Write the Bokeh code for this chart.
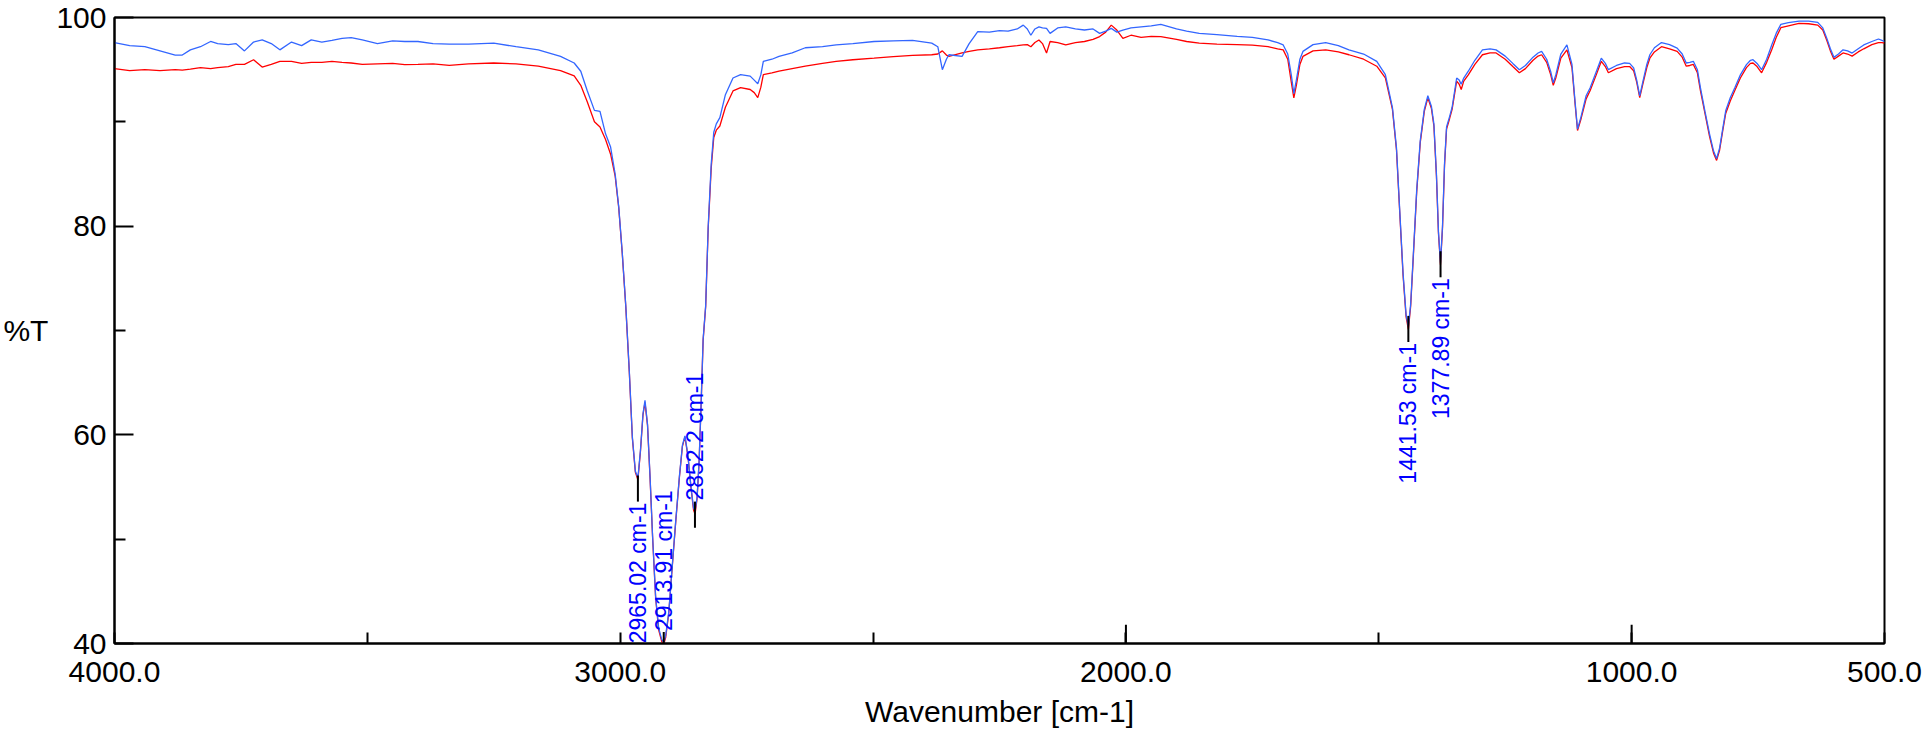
import math
from bokeh.plotting import figure
from bokeh.models import (Range1d, FixedTicker, Arrow, ColumnDataSource,
                          NumeralTickFormatter)
from bokeh.core.properties import value
from bokeh.embed import file_html
from bokeh.resources import INLINE

# ---------------- data ----------------
WAVENUMBER = [
    4000, 3970, 3940, 3910, 3880, 3866, 3850, 3830, 3810, 3796,
    3775, 3760, 3743, 3725, 3708, 3690, 3673, 3650, 3630, 3611,
    3590, 3570, 3550, 3532, 3510, 3480, 3450, 3426, 3400, 3370,
    3338, 3300, 3250, 3206, 3162, 3118, 3091, 3078, 3065, 3051,
    3040, 3029, 3019, 3010, 3003, 2996, 2989, 2982, 2976, 2970,
    2965, 2960, 2955, 2951, 2946, 2941, 2936, 2930, 2924, 2918,
    2914, 2910, 2904, 2897, 2890, 2883, 2877, 2872, 2866, 2860,
    2855, 2852, 2848, 2844, 2840, 2836, 2831, 2826, 2820, 2815,
    2810, 2803, 2792, 2777, 2762, 2743, 2735, 2728, 2722, 2717,
    2700, 2686, 2660, 2634, 2600, 2573, 2540, 2498, 2460, 2422,
    2384, 2372, 2363, 2355, 2350, 2324, 2310, 2293, 2270, 2250,
    2233, 2215, 2203, 2195, 2188, 2180, 2172, 2165, 2157, 2150,
    2135, 2119, 2100, 2082, 2065, 2052, 2040, 2029, 2018, 2006,
    1990, 1970, 1950, 1931, 1900, 1880, 1855, 1820, 1780, 1750,
    1719, 1700, 1689, 1680, 1673, 1668, 1663, 1656, 1650, 1630,
    1605, 1580, 1559, 1530, 1504, 1487, 1473, 1465, 1459, 1452,
    1446, 1441.5, 1437, 1432, 1425, 1418, 1410, 1403, 1396, 1391,
    1386, 1382, 1378, 1374, 1370, 1366, 1360, 1355, 1346, 1341,
    1337, 1332, 1323, 1310, 1295, 1280, 1268, 1250, 1235, 1222,
    1210, 1195, 1185, 1178, 1168, 1160, 1155, 1150, 1140, 1128,
    1118, 1112, 1107, 1100, 1090, 1082, 1070, 1060, 1052, 1046,
    1030, 1014, 1004, 996, 990, 984, 978, 970, 964, 955,
    941, 925, 910, 900, 892, 885, 878, 870, 864, 855,
    846, 838, 832, 826, 820, 814, 805, 796, 785, 773,
    765, 760, 752, 743, 733, 723, 714, 705, 690, 669,
    650, 632, 622, 614, 607, 600, 591, 582, 573, 564,
    552, 541, 525, 512, 505, 500,
]

T_BLUE = [
    97.6, 97.3, 97.2, 96.8, 96.4, 96.4, 96.9, 97.2, 97.7, 97.5,
    97.4, 97.5, 96.8, 97.65, 97.85, 97.5, 96.9, 97.65, 97.3, 97.85,
    97.65, 97.8, 98.0, 98.07, 97.85, 97.5, 97.75, 97.7, 97.7, 97.5,
    97.44, 97.44, 97.54, 97.2, 96.9, 96.27, 95.64, 94.85, 92.96, 91.1,
    91.0, 88.85, 87.58, 85.0, 81.9, 77.5, 72.4, 66.1, 59.8, 56.5,
    55.9, 58.5, 62.0, 63.3, 61.0, 56.0, 50.3, 44.5, 41.5, 40.4,
    40.1, 40.8, 43.0, 47.5, 51.9, 56.0, 59.0, 59.9, 58.0, 55.0,
    53.0, 52.7, 54.0, 57.5, 63.0, 69.2, 72.4, 80.0, 86.0, 89.0,
    89.8, 90.4, 92.6, 94.2, 94.53, 94.38, 94.0, 93.65, 94.5, 95.8,
    96.0, 96.27, 96.6, 97.1, 97.2, 97.37, 97.5, 97.7, 97.75, 97.8,
    97.54, 97.2, 95.0, 96.0, 96.43, 96.27, 97.5, 98.64, 98.6, 98.75,
    98.7, 98.9, 99.27, 98.9, 98.3, 98.9, 99.1, 99.0, 98.96, 98.48,
    99.0, 99.1, 98.9, 98.8, 98.9, 98.48, 98.7, 98.96, 98.6, 98.8,
    99.0, 99.1, 99.2, 99.34, 98.9, 98.7, 98.48, 98.35, 98.2, 98.1,
    97.85, 97.6, 97.37, 96.5, 94.5, 92.7, 94.0, 96.0, 96.75, 97.4,
    97.6, 97.3, 96.9, 96.5, 95.8, 94.53, 91.37, 87.5, 81.9, 75.5,
    71.5, 70.4, 72.5, 77.0, 83.5, 88.2, 91.2, 92.5, 91.5, 89.8,
    85.0, 79.5, 76.5, 80.0, 86.0, 89.5, 90.5, 91.4, 94.2, 94.0,
    93.6, 94.2, 94.85, 95.9, 96.9, 97.0, 96.9, 96.3, 95.6, 95.0,
    95.4, 96.2, 96.6, 96.75, 96.0, 94.8, 93.74, 94.5, 96.5, 97.37,
    95.5, 92.0, 89.3, 90.5, 92.5, 93.27, 94.8, 96.1, 95.6, 95.0,
    95.4, 95.64, 95.6, 95.17, 94.0, 92.48, 93.8, 95.5, 96.43, 97.1,
    97.6, 97.4, 97.06, 96.5, 95.64, 95.7, 95.8, 95.0, 93.27, 91.0,
    88.85, 87.2, 86.47, 87.5, 89.3, 91.06, 92.3, 93.27, 94.5, 95.48,
    95.9, 95.96, 95.6, 95.0, 96.0, 97.37, 98.5, 99.34, 99.5, 99.65,
    99.65, 99.53, 99.0, 98.0, 97.0, 96.18, 96.5, 96.9, 96.8, 96.59,
    97.0, 97.37, 97.7, 97.94, 97.8, 97.7,
]

T_RED = [
    95.1, 94.9, 95.0, 94.9, 95.0, 94.95, 95.05, 95.2, 95.1, 95.2,
    95.3, 95.5, 95.5, 95.95, 95.25, 95.5, 95.8, 95.8, 95.6, 95.7,
    95.7, 95.8, 95.7, 95.64, 95.5, 95.55, 95.6, 95.48, 95.5, 95.55,
    95.42, 95.55, 95.64, 95.55, 95.33, 94.9, 94.4, 93.5, 91.9, 90.0,
    89.5, 88.3, 86.9, 84.8, 81.8, 77.4, 72.3, 66.0, 59.7, 56.4,
    55.7, 58.4, 61.9, 63.1, 60.9, 55.9, 50.2, 44.4, 41.3, 40.2,
    39.9, 40.6, 42.9, 47.4, 51.8, 55.9, 58.9, 59.8, 57.9, 54.9,
    52.8, 52.4, 53.9, 57.4, 62.9, 69.1, 72.3, 79.8, 85.6, 88.5,
    89.2, 89.6, 91.4, 92.96, 93.27, 93.1, 92.8, 92.32, 93.3, 94.53,
    94.7, 94.85, 95.1, 95.33, 95.6, 95.8, 95.95, 96.1, 96.25, 96.37,
    96.43, 96.5, 96.8, 96.4, 96.27, 96.6, 96.75, 96.9, 97.0, 97.1,
    97.2, 97.3, 97.37, 97.4, 97.2, 97.6, 97.85, 97.5, 96.6, 97.7,
    97.6, 97.37, 97.6, 97.7, 97.9, 98.17, 98.6, 99.27, 98.8, 98.0,
    98.3, 98.1, 98.2, 98.17, 97.9, 97.7, 97.54, 97.45, 97.4, 97.35,
    97.2, 97.0, 96.9, 96.0, 93.8, 92.3, 93.5, 95.5, 96.27, 96.8,
    96.9, 96.7, 96.43, 96.0, 95.33, 94.22, 91.2, 87.3, 81.7, 75.3,
    71.3, 70.1, 72.3, 76.8, 83.3, 88.0, 91.0, 92.3, 91.3, 89.6,
    84.8, 79.3, 76.3, 79.8, 85.8, 89.3, 90.3, 91.2, 93.9, 93.6,
    93.1, 93.9, 94.5, 95.5, 96.43, 96.6, 96.6, 96.0, 95.3, 94.7,
    95.1, 95.9, 96.3, 96.43, 95.7, 94.5, 93.5, 94.2, 96.1, 96.9,
    95.2, 91.8, 89.17, 90.3, 92.2, 93.0, 94.5, 95.8, 95.3, 94.7,
    95.1, 95.3, 95.3, 94.9, 93.8, 92.32, 93.6, 95.2, 96.1, 96.7,
    97.2, 97.0, 96.75, 96.2, 95.33, 95.4, 95.5, 94.7, 93.0, 90.8,
    88.6, 87.0, 86.3, 87.3, 89.1, 90.8, 92.0, 93.0, 94.2, 95.2,
    95.6, 95.64, 95.3, 94.7, 95.7, 96.9, 98.1, 99.02, 99.2, 99.43,
    99.4, 99.27, 98.8, 97.8, 96.8, 96.0, 96.3, 96.6, 96.5, 96.3,
    96.7, 97.0, 97.4, 97.6, 97.6, 97.54,
]

assert len(WAVENUMBER) == len(T_BLUE) == len(T_RED)

# peak annotations
PEAK_WN = [2965.02, 2913.91, 2852.2, 1441.53, 1377.89]
PEAK_TEXT = ["2965.02 cm-1", "2913.91 cm-1", "2852.2 cm-1", "1441.53 cm-1", "1377.89 cm-1"]
PEAK_MARK_T = [56.1, 41.1, 53.6, 71.4, 77.6]
PEAK_SIDE = ["below", "above", "above", "below", "below"]

# axes
X_LABEL_TICKS = [4000, 3000, 2000, 1000, 500]
X_SHORT_TICKS = [3500, 2500, 1500]
X_LONG_TICKS = [2000, 1000]
Y_LABEL_TICKS = [100, 80, 60, 40]
Y_SHORT_TICKS = [90, 70, 50]

# ---------------- styling ----------------
FONT = "Liberation Sans"
BLUE = "#3366ff"
RED = "#ff0000"
LABEL_BLUE = "#0000ff"
MARK_LEN = 2.5       # peak marker length, in %T units
LONG_TICK = 1.8      # long x tick length, in %T units
GAP = 0.1

p = figure(width=1922, height=731,
           x_range=Range1d(4000, 500), y_range=Range1d(40, 100),
           output_backend="svg", toolbar_location=None,
           min_border_left=111, min_border_right=38,
           min_border_top=17, min_border_bottom=88)
p.grid.visible = False
p.background_fill_color = "white"
p.border_fill_color = "white"
p.outline_line_color = "black"
p.outline_line_width = 2
p.outline_line_alpha = 1.0

# x axis
xa = p.xaxis[0]
xa.ticker = FixedTicker(ticks=X_LABEL_TICKS, minor_ticks=X_SHORT_TICKS)
xa.formatter = NumeralTickFormatter(format="0.0")
xa.major_tick_in = 11
xa.major_tick_out = 0
xa.minor_tick_in = 11
xa.minor_tick_out = 0
xa.major_tick_line_width = 2
xa.minor_tick_line_width = 2
xa.major_tick_line_color = "black"
xa.minor_tick_line_color = "black"
xa.axis_line_width = 2
xa.axis_line_color = "black"
xa.major_label_standoff = 18
xa.major_label_text_font = FONT
xa.major_label_text_font_size = "30px"
xa.major_label_text_color = "black"
xa.axis_label = "Wavenumber [cm-1]"
xa.axis_label_text_font = FONT
xa.axis_label_text_font_size = "30px"
xa.axis_label_text_font_style = "normal"
xa.axis_label_text_color = "black"
xa.axis_label_standoff = 10

# longer ticks at 2000 and 1000
p.segment(x0=X_LONG_TICKS, x1=X_LONG_TICKS,
          y0=[40] * len(X_LONG_TICKS), y1=[40 + LONG_TICK] * len(X_LONG_TICKS),
          line_color="black", line_width=2)

# y axis
ya = p.yaxis[0]
ya.ticker = FixedTicker(ticks=Y_LABEL_TICKS, minor_ticks=Y_SHORT_TICKS)
ya.major_tick_in = 19
ya.major_tick_out = 0
ya.minor_tick_in = 11
ya.minor_tick_out = 0
ya.major_tick_line_width = 2
ya.minor_tick_line_width = 2
ya.major_tick_line_color = "black"
ya.minor_tick_line_color = "black"
ya.axis_line_width = 2
ya.axis_line_color = "black"
ya.major_label_standoff = 8
ya.major_label_text_font = FONT
ya.major_label_text_font_size = "30px"
ya.major_label_text_color = "black"
ya.axis_label = "%T"
ya.axis_label_orientation = "horizontal"
ya.axis_label_standoff = 5
ya.axis_label_text_font = FONT
ya.axis_label_text_font_size = "30px"
ya.axis_label_text_font_style = "normal"
ya.axis_label_text_color = "black"

# spectra
p.line(WAVENUMBER, T_RED, line_color=RED, line_width=1.3)
p.line(WAVENUMBER, T_BLUE, line_color=BLUE, line_width=1.3)

# peak markers
mark_src = ColumnDataSource(dict(
    x=PEAK_WN, y0=PEAK_MARK_T, y1=[t - MARK_LEN for t in PEAK_MARK_T]))
p.add_layout(Arrow(end=None, x_start="x", y_start="y0", x_end="x", y_end="y1",
                   source=mark_src, line_color="black", line_width=2))

below = [i for i, s in enumerate(PEAK_SIDE) if s == "below"]
above = [i for i, s in enumerate(PEAK_SIDE) if s == "above"]
src_below = ColumnDataSource(dict(
    x=[PEAK_WN[i] for i in below],
    y=[PEAK_MARK_T[i] - MARK_LEN - GAP for i in below],
    text=[PEAK_TEXT[i] for i in below]))
src_above = ColumnDataSource(dict(
    x=[PEAK_WN[i] for i in above],
    y=[PEAK_MARK_T[i] + GAP for i in above],
    text=[PEAK_TEXT[i] for i in above]))
for src, align in ((src_below, "right"), (src_above, "left")):
    p.text(x="x", y="y", text="text", source=src, angle=math.pi / 2,
           text_align=align, text_baseline="middle",
           text_font=value(FONT), text_font_size=value("23px"),
           text_color=LABEL_BLUE)

open("out.html", "w").write(file_html(p, INLINE))
